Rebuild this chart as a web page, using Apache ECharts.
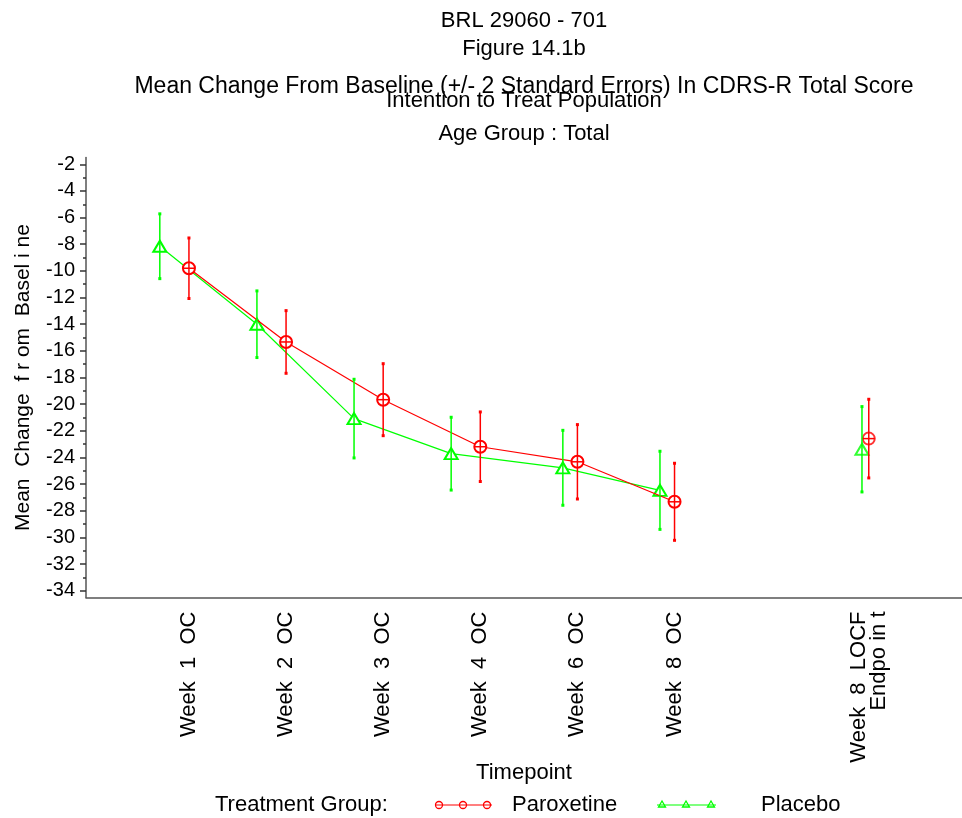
<!DOCTYPE html>
<html>
<head>
<meta charset="utf-8">
<script src="https://cdn.jsdelivr.net/npm/echarts@6/dist/echarts.min.js"></script>
<style>
html,body{margin:0;padding:0;background:#fff}
#chart{width:962px;height:818px}
</style>
</head>
<body>
<div id="chart"></div>
<script>
// timepoints (x = position on the axis)
var paroxX = [1, 2, 3, 4, 5, 6, 8];
var placeboX = [0.7, 1.7, 2.7, 3.7, 4.85, 5.85, 7.93];
var tickNames = ['Week  1  OC', 'Week  2  OC', 'Week  3  OC', 'Week  4  OC', 'Week  6  OC', 'Week  8  OC', 'Week  8  LOCF\nEndpo in t'];

// mean change and 2 standard errors
var paroxMean = [-9.8, -15.33, -19.66, -23.19, -24.32, -27.32, -22.58];
var paroxErr = [2.27, 2.35, 2.7, 2.61, 2.79, 2.89, 2.95];
var placeboMean = [-8.15, -14.0, -21.08, -23.71, -24.77, -26.46, -23.38];
var placeboErr = [2.43, 2.5, 2.95, 2.73, 2.81, 2.93, 3.2];

var yLabels = [-2, -4, -6, -8, -10, -12, -14, -16, -18, -20, -22, -24, -26, -28, -30, -32, -34];
var yMinor = [-3, -5, -7, -9, -11, -13, -15, -17, -19, -21, -23, -25, -27, -29, -31, -33];

var FONT = 'Liberation Sans, Arial, sans-serif';
var RED = '#ff0000', GREEN = '#00ff00';

var myChart = echarts.init(document.getElementById('chart'));

function pts(xs, ys, from, to) {
    var out = [];
    for (var i = from; i < to; i++) out.push([xs[i], ys[i]]);
    return out;
}
function bars(xs, ys, es) {
    return xs.map(function (x, i) {
        return [x, ys[i] - es[i], ys[i] + es[i], ys[i]];
    });
}
// error bar: vertical line, small end caps, mean tick
function errRender(color, tick) {
    return function (params, api) {
        var x = api.value(0);
        var lo = api.coord([x, api.value(1)]);
        var hi = api.coord([x, api.value(2)]);
        var md = api.coord([x, api.value(3)]);
        var st = { stroke: color, lineWidth: 1.5 };
        var kids = [
            { type: 'line', shape: { x1: lo[0], y1: lo[1], x2: hi[0], y2: hi[1] }, style: st },
            { type: 'line', shape: { x1: lo[0] - 1.5, y1: lo[1], x2: lo[0] + 1.5, y2: lo[1] }, style: { stroke: color, lineWidth: 3 } },
            { type: 'line', shape: { x1: hi[0] - 1.5, y1: hi[1], x2: hi[0] + 1.5, y2: hi[1] }, style: { stroke: color, lineWidth: 3 } }
        ];
        if (tick) {
            kids.push({ type: 'line', shape: { x1: md[0] - 6, y1: md[1], x2: md[0] + 6, y2: md[1] }, style: st });
        }
        return { type: 'group', children: kids };
    };
}

var titles = [
    ['BRL 29060 - 701', 10, 22],
    ['Figure 14.1b', 38, 22],
    ['Mean Change From Baseline (+/- 2 Standard Errors) In CDRS-R Total Score', 75, 23],
    ['Intention to Treat Population', 90, 22],
    ['Age Group : Total', 123, 22]
];

myChart.setOption({
    backgroundColor: '#fff',
    animation: false,
    title: titles.map(function (t) {
        return {
            text: t[0], top: t[1], left: 524, textAlign: 'center', padding: 0,
            textStyle: { fontFamily: FONT, fontSize: t[2], fontWeight: 'normal', color: '#000' }
        };
    }),
    grid: { left: 86, right: 0, top: 157.6, bottom: 220.5, containLabel: false, outerBoundsMode: 'none' },
    xAxis: {
        type: 'value', min: -0.06, max: 8.96,
        name: 'Timepoint', nameLocation: 'middle', nameGap: 164, nameMoveOverlap: false,
        nameTextStyle: { fontFamily: FONT, fontSize: 22, color: '#000' },
        axisLine: { onZero: false, lineStyle: { color: '#555', width: 1.5 } },
        axisTick: { show: false },
        splitLine: { show: false },
        axisLabel: {
            customValues: paroxX,
            rotate: 90, margin: 14,
            fontFamily: FONT, fontSize: 22, color: '#000', lineHeight: 20,
            formatter: function (v) { return tickNames[paroxX.indexOf(v)] || ''; }
        }
    },
    yAxis: [{
        type: 'value', min: -34.5, max: -1.5,
        name: 'Mean  Change  f r om  Basel i ne', nameLocation: 'middle', nameRotate: 90, nameGap: 52, nameMoveOverlap: false,
        nameTextStyle: { fontFamily: FONT, fontSize: 21, color: '#000' },
        axisLine: { show: true, onZero: false, lineStyle: { color: '#555', width: 1.5 } },
        axisTick: { show: true, length: 6, customValues: yLabels, lineStyle: { color: '#333', width: 1.5 } },
        splitLine: { show: false },
        axisLabel: { customValues: yLabels, margin: 11, fontFamily: FONT, fontSize: 20, color: '#000' }
    }, {
        type: 'value', min: -34.5, max: -1.5, position: 'left',
        axisLine: { show: false, onZero: false },
        axisTick: { show: true, length: 3, customValues: yMinor, lineStyle: { color: '#333', width: 1.5 } },
        axisLabel: { show: false },
        splitLine: { show: false }
    }],
    series: [
        {
            name: 'Placebo', type: 'line', data: pts(placeboX, placeboMean, 0, 6),
            symbol: 'emptyTriangle', symbolSize: [13, 11], showAllSymbol: true,
            lineStyle: { color: GREEN, width: 1.2 }, itemStyle: { color: GREEN, borderWidth: 2 }, z: 2
        },
        {
            name: 'Placebo', type: 'scatter', data: pts(placeboX, placeboMean, 6, 7),
            symbol: 'emptyTriangle', symbolSize: [13, 11],
            itemStyle: { color: GREEN, borderWidth: 2 }, z: 2
        },
        {
            name: 'Paroxetine', type: 'line', data: pts(paroxX, paroxMean, 0, 6),
            symbol: 'emptyCircle', symbolSize: 12, showAllSymbol: true,
            lineStyle: { color: RED, width: 1.2 }, itemStyle: { color: RED, borderWidth: 1.6 }, z: 3
        },
        {
            name: 'Paroxetine', type: 'scatter', data: pts(paroxX, paroxMean, 6, 7),
            symbol: 'emptyCircle', symbolSize: 12,
            itemStyle: { color: RED, borderWidth: 1.6 }, z: 3
        },
        {
            type: 'custom', data: bars(placeboX, placeboMean, placeboErr),
            renderItem: errRender(GREEN, false), encode: { x: 0, y: [1, 2] }, z: 4
        },
        {
            type: 'custom', data: bars(paroxX, paroxMean, paroxErr),
            renderItem: errRender(RED, true), encode: { x: 0, y: [1, 2] }, z: 5
        }
    ],
    // legend drawn by hand: line with three symbols
    graphic: [
        { type: 'text', x: 215, y: 805, style: { text: 'Treatment Group:', font: '22px ' + FONT, fill: '#000', verticalAlign: 'middle' } },
        { type: 'line', shape: { x1: 435, y1: 805, x2: 492, y2: 805 }, style: { stroke: RED, lineWidth: 1.2 } },
        { type: 'circle', shape: { cx: 439, cy: 805, r: 3.5 }, style: { stroke: RED, fill: 'none', lineWidth: 1.3 } },
        { type: 'circle', shape: { cx: 463, cy: 805, r: 3.5 }, style: { stroke: RED, fill: 'none', lineWidth: 1.3 } },
        { type: 'circle', shape: { cx: 487, cy: 805, r: 3.5 }, style: { stroke: RED, fill: 'none', lineWidth: 1.3 } },
        { type: 'text', x: 512, y: 805, style: { text: 'Paroxetine', font: '22px ' + FONT, fill: '#000', verticalAlign: 'middle' } },
        { type: 'line', shape: { x1: 657, y1: 805, x2: 716, y2: 805 }, style: { stroke: GREEN, lineWidth: 1.2 } },
        { type: 'polygon', shape: { points: [[662, 801], [658.5, 807], [665.5, 807]] }, style: { stroke: GREEN, fill: 'none', lineWidth: 1.3 } },
        { type: 'polygon', shape: { points: [[686, 801], [682.5, 807], [689.5, 807]] }, style: { stroke: GREEN, fill: 'none', lineWidth: 1.3 } },
        { type: 'polygon', shape: { points: [[711, 801], [707.5, 807], [714.5, 807]] }, style: { stroke: GREEN, fill: 'none', lineWidth: 1.3 } },
        { type: 'text', x: 761, y: 805, style: { text: 'Placebo', font: '22px ' + FONT, fill: '#000', verticalAlign: 'middle' } }
    ]
});
</script>
</body>
</html>
